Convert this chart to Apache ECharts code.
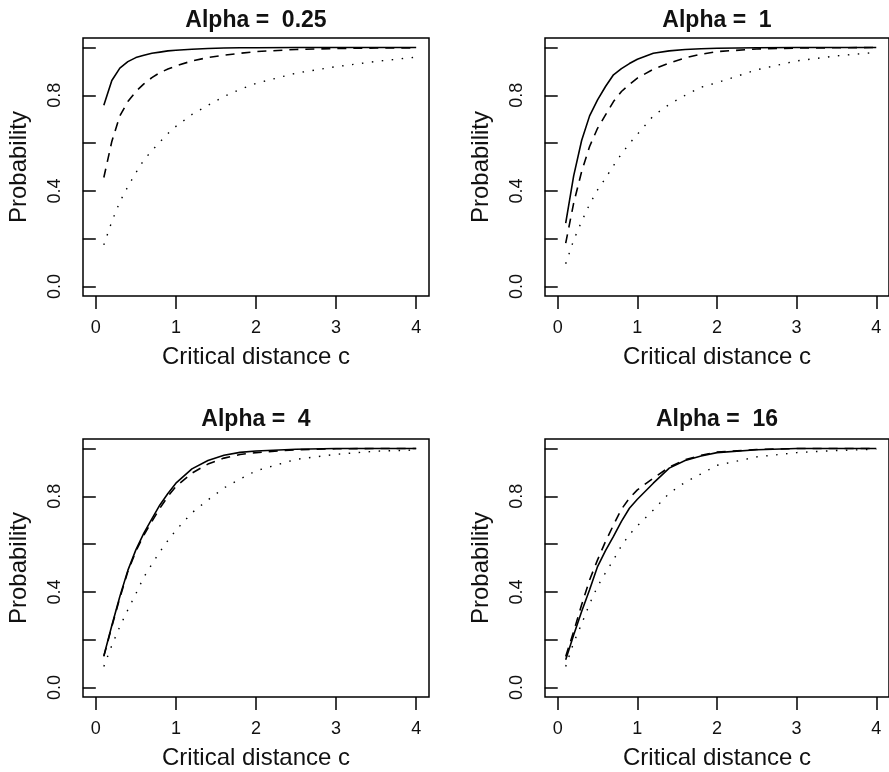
<!DOCTYPE html>
<html>
<head>
<meta charset="utf-8">
<script src="https://cdn.jsdelivr.net/npm/echarts@6/dist/echarts.min.js"></script>
<style>
html,body{margin:0;padding:0;background:#fff;}
#chart{width:889px;height:772px;}
</style>
</head>
<body>
<div id="chart"></div>
<script>
// Critical distance values (x)
const cValues = [0.1,0.2,0.3,0.4,0.5,0.6,0.7,0.8,0.9,1.0,1.2,1.4,1.6,1.8,2.0,2.5,3.0,3.5,4.0];

const panelTitles = ['Alpha =  0.25', 'Alpha =  1', 'Alpha =  4', 'Alpha =  16'];
const xTicks = [0, 1, 2, 3, 4];
const yTicks = [0, 0.2, 0.4, 0.6, 0.8, 1.0];
const yLabels = [0, 0.4, 0.8];
const xTitle = 'Critical distance c';
const yTitle = 'Probability';

// Alpha = 0.25
const solidA025  = [0.758,0.862,0.914,0.941,0.958,0.968,0.976,0.981,0.986,0.989,0.993,0.996,0.998,0.999,0.999,1,1,1,1];
const dashedA025 = [0.456,0.607,0.714,0.774,0.816,0.848,0.874,0.895,0.910,0.923,0.944,0.958,0.968,0.976,0.983,0.992,0.996,0.998,0.999];
const dottedA025 = [0.174,0.272,0.354,0.418,0.476,0.530,0.568,0.605,0.640,0.670,0.720,0.758,0.795,0.825,0.850,0.893,0.920,0.942,0.960];
// Alpha = 1
const solidA1  = [0.265,0.463,0.611,0.714,0.781,0.837,0.886,0.912,0.933,0.951,0.976,0.986,0.992,0.995,0.997,0.999,1,1,1];
const dashedA1 = [0.181,0.349,0.481,0.586,0.662,0.718,0.774,0.816,0.846,0.872,0.909,0.935,0.957,0.972,0.983,0.994,0.998,0.999,1];
const dottedA1 = [0.095,0.194,0.272,0.344,0.404,0.453,0.506,0.555,0.598,0.637,0.714,0.762,0.800,0.834,0.853,0.907,0.944,0.965,0.980];
// Alpha = 4
const solidA4  = [0.132,0.259,0.381,0.490,0.576,0.646,0.706,0.764,0.812,0.855,0.915,0.950,0.972,0.984,0.990,0.997,1,1,1];
const dashedA4 = [0.130,0.255,0.375,0.485,0.570,0.638,0.695,0.750,0.800,0.841,0.897,0.935,0.960,0.975,0.983,0.995,0.999,1,1];
const dottedA4 = [0.088,0.176,0.255,0.325,0.392,0.462,0.516,0.568,0.615,0.658,0.731,0.785,0.835,0.872,0.907,0.955,0.976,0.989,0.994];
// Alpha = 16
const solidA16  = [0.116,0.220,0.318,0.409,0.506,0.573,0.632,0.695,0.750,0.788,0.855,0.918,0.950,0.969,0.983,0.995,1,1,1];
const dashedA16 = [0.130,0.234,0.346,0.450,0.534,0.611,0.680,0.746,0.792,0.827,0.876,0.922,0.953,0.972,0.985,0.996,1,1,1];
const dottedA16 = [0.088,0.188,0.266,0.350,0.423,0.480,0.534,0.593,0.640,0.676,0.743,0.813,0.859,0.894,0.930,0.965,0.983,0.992,0.997];

const panels = [
  [solidA025, dashedA025, dottedA025],
  [solidA1, dashedA1, dottedA1],
  [solidA4, dashedA4, dottedA4],
  [solidA16, dashedA16, dottedA16]
];

const FONT = '"Liberation Sans", Arial, Helvetica, sans-serif';
const gridPos = [
  {left: 83, top: 38},
  {left: 545, top: 38},
  {left: 83, top: 439},
  {left: 545, top: 439}
];
const titlePos = [
  {left: 256, top: 9},
  {left: 717, top: 9},
  {left: 256, top: 408},
  {left: 717, top: 408}
];

const lineStyles = [
  {color: '#000', width: 1.6, type: 'solid'},
  {color: '#000', width: 1.6, type: [9, 7]},
  {color: '#000', width: 1.4, type: [1.5, 8.5]}
];

const grids = [], xAxes = [], yAxes = [], series = [], titles = [];
panels.forEach((p, i) => {
  grids.push({
    left: gridPos[i].left, top: gridPos[i].top, width: 346, height: 258,
    show: true, borderColor: '#000', borderWidth: 1.5, backgroundColor: 'transparent'
  });
  titles.push({
    text: panelTitles[i], left: titlePos[i].left, top: titlePos[i].top,
    textAlign: 'center', padding: 0,
    textStyle: {fontFamily: FONT, fontSize: 23, fontWeight: 'bold', color: '#111'}
  });
  xAxes.push({
    gridIndex: i, type: 'value', min: -0.16, max: 4.16,
    axisLine: {show: false, onZero: false},
    splitLine: {show: false},
    axisTick: {show: true, inside: false, length: 13, customValues: xTicks,
      lineStyle: {color: '#000', width: 1.5}},
    axisLabel: {customValues: xTicks, fontFamily: FONT, fontSize: 18, color: '#111', margin: 23,
      formatter: v => String(v)},
    name: xTitle, nameLocation: 'middle', nameGap: 49,
    nameTextStyle: {fontFamily: FONT, fontSize: 24, color: '#111'}
  });
  yAxes.push({
    gridIndex: i, type: 'value', min: -0.04, max: 1.04,
    axisLine: {show: false},
    splitLine: {show: false},
    axisTick: {show: true, inside: false, length: 13, customValues: yTicks,
      lineStyle: {color: '#000', width: 1.5}},
    axisLabel: {customValues: yLabels, rotate: 90, fontFamily: FONT, fontSize: 18, color: '#111', margin: 19,
      formatter: v => v.toFixed(1)},
    name: yTitle, nameLocation: 'middle', nameGap: 52,
    nameTextStyle: {fontFamily: FONT, fontSize: 24, color: '#111'}
  });
  p.forEach((vals, k) => {
    series.push({
      type: 'line', xAxisIndex: i, yAxisIndex: i,
      data: cValues.map((c, j) => [c, vals[j]]),
      showSymbol: false, symbol: 'none', silent: true,
      lineStyle: lineStyles[k]
    });
  });
});

const chart = echarts.init(document.getElementById('chart'), null, {renderer: 'canvas'});
chart.setOption({
  animation: false,
  backgroundColor: '#fff',
  title: titles,
  grid: grids,
  xAxis: xAxes,
  yAxis: yAxes,
  series: series
});
</script>
</body>
</html>
